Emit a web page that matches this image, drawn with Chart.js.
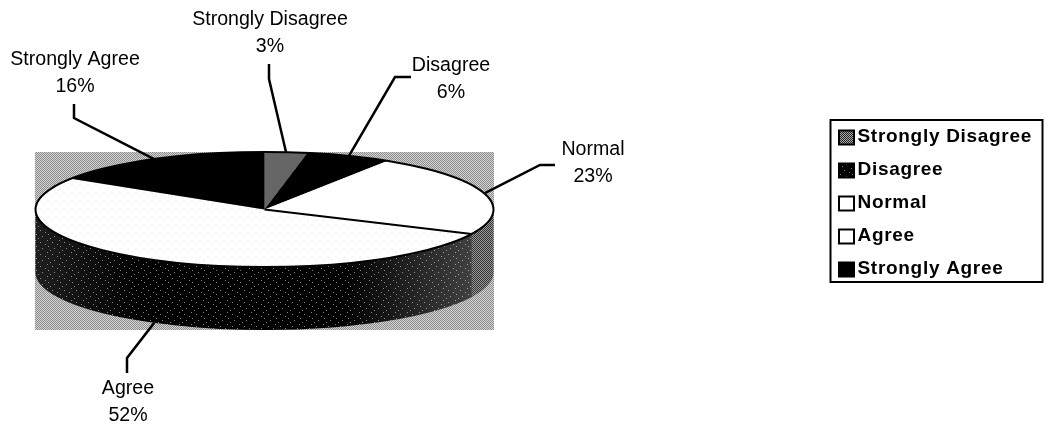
<!DOCTYPE html>
<html>
<head>
<meta charset="utf-8">
<title>Pie chart</title>
<script src="https://cdn.jsdelivr.net/npm/chart.js@4"></script>
<style>
  html,body{margin:0;padding:0;background:#fff;}
  #wrap{position:relative;width:1049px;height:428px;}
</style>
</head>
<body>
<div id="wrap"><canvas id="myChart" width="1049" height="428"></canvas></div>
<script>
// data
const categories = ['Strongly Disagree', 'Disagree', 'Normal', 'Agree', 'Strongly Agree'];
const percents = [3, 6, 23, 52, 16];

// label placement, same order as categories: label centre and the elbow of the leader
const labelX = [270, 451, 593, 128, 75];
const labelY = [20, 66, 150, 389, 60];
const elbowX = [[269, 269], [411, 395], [555, 540], [127, 127], [74, 74]];
const elbowY = [[64, 79], [77, 77], [165, 165], [373, 358], [104, 118]];

// pie look
const pieX = 264.5, pieY = 209.5, pieRx = 229, pieRy = 57.5, pieDepth = 63;
const squash = pieRy / pieRx;

function tile(rows, dark, light, yScale) {
  const c = document.createElement('canvas');
  c.width = rows[0].length;
  c.height = rows.length;
  const g = c.getContext('2d');
  rows.forEach((row, y) => {
    [...row].forEach((ch, x) => {
      g.fillStyle = ch === '#' ? dark : light;
      g.fillRect(x, y, 1, 1);
    });
  });
  const p = document.createElement('canvas').getContext('2d').createPattern(c, 'repeat');
  if (yScale) p.setTransform(new DOMMatrix().scale(1, yScale));
  return p;
}

const dither = ['#.', '.#'];
const speckle = [
  '###########.',
  '############',
  '####.#######',
  '############',
  '#########.##',
  '############',
  '.###########',
  '############',
  '######.#####',
  '############',
  '##.#########',
  '############'
];
const lightSpeckle = ['........', '........', '...#....', '........', '........', '.......#', '........', '........'];

const bgFill = tile(['#.', '.#'], '#8c8c8c', '#d4d4d4');
const topFills = [
  tile(dither, '#333333', '#999999', 1 / squash),
  '#000000',
  '#ffffff',
  tile(lightSpeckle, '#d8d8d8', '#ffffff', 1 / squash),
  '#000000'
];
const sideFills = [
  '#333333',
  '#000000',
  tile(dither, '#333333', '#9a9a9a'),
  tile(speckle, '#000000', '#808080'),
  '#000000'
];
const legendFills = [
  tile(dither, '#222222', '#aaaaaa'),
  tile(speckle, '#000000', '#777777'),
  '#ffffff',
  '#ffffff',
  '#000000'
];

const piePlugin = {
  id: 'pie3d',
  beforeLayout(chart) {
    // wider legend text, has to be on the context before the legend measures
    chart.ctx.letterSpacing = '0.7px';
  },
  beforeDraw(chart) {
    const ctx = chart.ctx;
    ctx.save();
    ctx.fillStyle = bgFill;
    ctx.fillRect(35, 152, 459, 178);
    // the wall fades to grey toward both ends
    const fade = ctx.createLinearGradient(35, 0, 471, 0);
    fade.addColorStop(0, 'rgba(255,255,255,0.12)');
    fade.addColorStop(0.25, 'rgba(255,255,255,0)');
    fade.addColorStop(0.7, 'rgba(255,255,255,0)');
    fade.addColorStop(1, 'rgba(255,255,255,0.25)');
    // side wall, only the front half of the ellipse shows
    chart.getDatasetMeta(0).data.forEach((arc, i) => {
      const a0 = Math.max(arc.startAngle, 0);
      const a1 = Math.min(arc.endAngle, Math.PI);
      if (a1 <= a0) return;
      ctx.beginPath();
      ctx.ellipse(pieX, pieY, pieRx, pieRy, 0, a0, a1);
      ctx.ellipse(pieX, pieY + pieDepth, pieRx, pieRy, 0, a1, a0, true);
      ctx.closePath();
      ctx.fillStyle = sideFills[i];
      ctx.fill();
      if (i === 3) {
        ctx.fillStyle = fade;
        ctx.fill();
      }
    });
    ctx.restore();
  },
  beforeDatasetsDraw(chart) {
    const ctx = chart.ctx;
    const arc = chart.getDatasetMeta(0).data[0];
    ctx.save();
    ctx.translate(pieX, pieY);
    ctx.scale(1, squash);
    ctx.translate(-arc.x, -arc.y);
  },
  afterDatasetsDraw(chart) {
    const ctx = chart.ctx;
    ctx.restore();
    ctx.save();
    ctx.strokeStyle = '#000';
    ctx.lineWidth = 2;
    ctx.beginPath();
    ctx.ellipse(pieX, pieY, pieRx, pieRy, 0, 0, Math.PI * 2);
    ctx.stroke();
    // edge between the white slices
    const arcs = chart.getDatasetMeta(0).data;
    ctx.beginPath();
    ctx.moveTo(pieX, pieY);
    ctx.lineTo(pieX + pieRx * Math.cos(arcs[3].startAngle), pieY + pieRy * Math.sin(arcs[3].startAngle));
    ctx.stroke();
    ctx.restore();
  },
  afterDraw(chart) {
    const ctx = chart.ctx;
    ctx.save();
    ctx.letterSpacing = '0px';
    // leaders and labels
    chart.getDatasetMeta(0).data.forEach((arc, i) => {
      const mid = (arc.startAngle + arc.endAngle) / 2;
      const ax = pieX + pieRx * Math.cos(mid);
      let ay = pieY + pieRy * Math.sin(mid);
      if (Math.sin(mid) > 0.5) ay += pieDepth;
      ctx.strokeStyle = '#000';
      ctx.lineWidth = 2.5;
      ctx.beginPath();
      ctx.moveTo(elbowX[i][0], elbowY[i][0]);
      ctx.lineTo(elbowX[i][1], elbowY[i][1]);
      ctx.lineTo(ax, ay);
      ctx.stroke();
      ctx.fillStyle = '#000';
      ctx.font = '19.6px "Liberation Sans"';
      ctx.textAlign = 'center';
      ctx.textBaseline = 'middle';
      ctx.fillText(categories[i], labelX[i], labelY[i]);
      ctx.fillText(percents[i] + '%', labelX[i], labelY[i] + 27);
    });
    // legend frame and swatches
    const boxes = chart.legend.legendHitBoxes;
    ctx.lineWidth = 2;
    ctx.strokeStyle = '#000';
    ctx.strokeRect(830.5, 120, 212, 162);
    boxes.forEach((b, i) => {
      const y = b.top + b.height / 2 - 6;
      ctx.fillStyle = legendFills[i];
      ctx.fillRect(839, y, 15, 14);
      ctx.strokeRect(839, y, 15, 14);
    });
    ctx.restore();
  }
};

new Chart(document.getElementById('myChart'), {
  type: 'pie',
  data: {
    labels: categories,
    datasets: [{
      data: percents,
      backgroundColor: topFills,
      borderWidth: 0,
      radius: pieRx,
      clip: false
    }]
  },
  options: {
    responsive: false,
    animation: false,
    layout: { padding: { right: 7, top: 3, bottom: 26 } },
    plugins: {
      tooltip: { enabled: false },
      legend: {
        position: 'right',
        labels: {
          boxWidth: 10,
          padding: 14,
          color: '#000',
          font: { family: '"Liberation Sans"', size: 19, weight: 'bold' },
          generateLabels: () => categories.map((name, i) => ({
            text: name,
            fillStyle: 'rgba(0,0,0,0)',
            strokeStyle: 'rgba(0,0,0,0)',
            lineWidth: 0,
            index: i
          }))
        }
      }
    }
  },
  plugins: [piePlugin]
});
</script>
</body>
</html>
